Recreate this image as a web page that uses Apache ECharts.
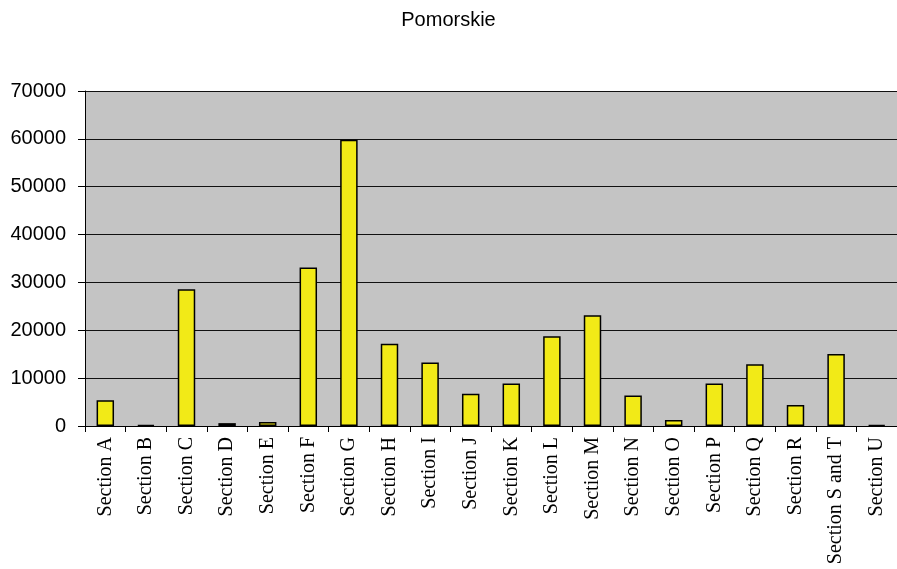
<!DOCTYPE html>
<html>
<head>
<meta charset="utf-8">
<script src="https://cdn.jsdelivr.net/npm/echarts@6/dist/echarts.min.js"></script>
<style>
  html, body { margin: 0; padding: 0; background: #fff; }
  #main { width: 897px; height: 569px; }
</style>
</head>
<body>
<div id="main"></div>
<script>
const sections = ['Section A', 'Section B', 'Section C', 'Section D', 'Section E', 'Section F',
  'Section G', 'Section H', 'Section I', 'Section J', 'Section K', 'Section L', 'Section M',
  'Section N', 'Section O', 'Section P', 'Section Q', 'Section R', 'Section S and T', 'Section U'];

const values = [5400, 250, 28600, 600, 850, 33100, 59800, 17200, 13250, 6750, 8900, 18750,
  23150, 6350, 1250, 8900, 12900, 4400, 15050, 250];

const chart = echarts.init(document.getElementById('main'));

chart.setOption({
  animation: false,
  title: {
    text: 'Pomorskie',
    left: 'center',
    top: 5,
    textStyle: { fontFamily: 'Liberation Sans, Arial', fontSize: 20, fontWeight: 'normal', color: '#000' }
  },
  grid: {
    left: 85, right: 0, top: 91, bottom: 143,
    show: true, backgroundColor: '#c4c4c4', borderWidth: 0
  },
  xAxis: {
    type: 'category',
    data: sections,
    axisLine: { lineStyle: { color: '#000', width: 1 } },
    axisTick: { show: true, length: 6, lineStyle: { color: '#000' } },
    axisLabel: {
      rotate: 90, margin: 11, color: '#000',
      fontFamily: 'Liberation Serif, Times New Roman, serif', fontSize: 20
    }
  },
  yAxis: {
    type: 'value',
    min: 0, max: 70000, interval: 10000,
    axisLine: { show: true, lineStyle: { color: '#000', width: 1 } },
    axisTick: { show: true, length: 7, lineStyle: { color: '#000' } },
    axisLabel: {
      color: '#000', fontFamily: 'Liberation Sans, Arial', fontSize: 20, margin: 19,
      formatter: v => String(v)
    },
    splitLine: { lineStyle: { color: '#111', width: 1 } }
  },
  series: [{
    type: 'bar',
    data: values,
    barWidth: '43%',
    itemStyle: { color: '#f2ea17', borderColor: '#000', borderWidth: 1.5 }
  }]
});
</script>
</body>
</html>
